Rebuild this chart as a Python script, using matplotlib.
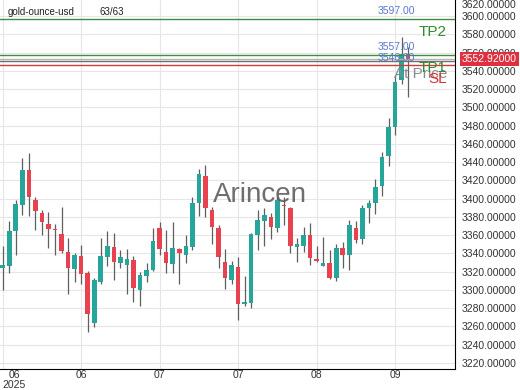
import matplotlib
matplotlib.use("Agg")
import matplotlib.pyplot as plt
import numpy as np

plt.rcParams["font.family"] = ["Liberation Sans", "DejaVu Sans"]

# daily candles, gold-ounce-usd (63 bars)
opens  = [3324, 3326, 3364, 3393, 3431, 3399, 3384, 3372, 3367, 3361,
          3342, 3323, 3337, 3318, 3264, 3309, 3336, 3347, 3330, 3327,
          3333, 3300, 3315, 3322, 3368, 3342, 3328, 3345, 3338, 3347,
          3395, 3425, 3388, 3368, 3331, 3311, 3325, 3285, 3286, 3360,
          3375, 3380, 3368, 3393, 3390, 3347, 3348, 3360, 3334, 3326,
          3330, 3313, 3346, 3338, 3368, 3356, 3390, 3395, 3414, 3447,
          3478, 3530, 3558]
highs  = [3348, 3375, 3398, 3445, 3450, 3402, 3388, 3385, 3372, 3391,
          3357, 3340, 3349, 3321, 3313, 3357, 3365, 3362, 3344, 3345,
          3337, 3320, 3329, 3368, 3374, 3366, 3374, 3346, 3360, 3402,
          3432, 3437, 3391, 3371, 3345, 3332, 3336, 3315, 3362, 3387,
          3390, 3384, 3402, 3402, 3391, 3357, 3369, 3373, 3348, 3358,
          3344, 3350, 3353, 3377, 3375, 3393, 3399, 3422, 3451, 3488,
          3535, 3577, 3566]
lows   = [3300, 3318, 3338, 3382, 3381, 3366, 3360, 3346, 3338, 3340,
          3295, 3309, 3307, 3254, 3259, 3307, 3326, 3311, 3324, 3296,
          3287, 3282, 3309, 3321, 3338, 3318, 3318, 3307, 3329, 3344,
          3381, 3380, 3350, 3324, 3301, 3307, 3267, 3282, 3280, 3344,
          3348, 3356, 3363, 3371, 3340, 3331, 3341, 3327, 3331, 3326,
          3312, 3310, 3324, 3322, 3351, 3350, 3373, 3383, 3403, 3436,
          3470, 3526, 3511]
closes = [3327, 3364, 3394, 3431, 3402, 3386, 3374, 3367, 3366, 3343,
          3324, 3338, 3317, 3274, 3311, 3337, 3348, 3331, 3336, 3334,
          3302, 3316, 3322, 3354, 3345, 3330, 3346, 3340, 3348, 3395,
          3427, 3390, 3369, 3336, 3313, 3327, 3285, 3287, 3361, 3377,
          3382, 3369, 3399, 3392, 3348, 3350, 3360, 3335, 3332, 3330,
          3313, 3346, 3338, 3371, 3355, 3390, 3395, 3413, 3446, 3478,
          3528, 3558, 3552.92]

tick_pos    = [0, 12, 24, 36, 48, 60]
tick_labels = ["06\n2025", "06", "07", "07", "08", "09"]
y_ticks     = list(range(3220, 3601, 20))

tp2      = 3597.00
tp1      = 3557.00
at_price = 3551.00
sl       = 3546.00
last     = 3552.92

GREEN = "#26a69a"
RED   = "#e8414f"
WICK  = "#5f5f5f"
GRID  = "#e6e6e6"

fig = plt.figure(figsize=(5.2, 3.9), dpi=100)
ax = fig.add_axes([0, 21 / 390, 455 / 520, 369 / 390])

x = np.arange(len(opens))
o = np.array(opens, dtype=float)
c = np.array(closes, dtype=float)
up = c >= o
colors = np.where(up, GREEN, RED)

ax.vlines(x, lows, highs, color=WICK, lw=0.9, zorder=2)
body_h = np.maximum(np.abs(c - o), 0.8)
ax.bar(x, body_h, bottom=np.minimum(o, c), width=0.7, color=colors,
       linewidth=0, zorder=3)

# trade levels
ax.axhline(tp2, color="#3f8f3f", lw=1.0, zorder=4)
ax.axhline(tp1, color="#3f8f3f", lw=1.0, zorder=4)
ax.axhline(last, color="#b5b5b5", lw=1.0, zorder=4)
ax.axhline(at_price, color="#707070", lw=1.0, zorder=4)
ax.axhline(sl, color="#d23b3b", lw=1.0, zorder=4)

ytr = ax.get_yaxis_transform()
for val in (tp2, tp1, sl):
    ax.annotate(f"{val:.2f}", xy=(415 / 455, val), xycoords=ytr,
                xytext=(0, 2), textcoords="offset points",
                ha="right", va="bottom", fontsize=7.5, color="#5a78d0",
                zorder=6)

for txt, val, col in [("TP2", tp2, "#2e8b2e"), ("At Price", at_price, "#8a8a8a"),
                      ("TP1", tp1, "#2e8b2e"), ("SL", sl, "#d93030")]:
    ax.annotate(txt, xy=(447 / 455, val), xycoords=ytr,
                xytext=(0, -4.5), textcoords="offset points",
                ha="right", va="top", fontsize=11, color=col, zorder=6)

# last price tag
ax.annotate(f"{last:.5f}", xy=(1, last), xycoords=ytr,
            xytext=(5, 0), textcoords="offset points",
            ha="left", va="center", fontsize=7.5, color="white",
            bbox=dict(boxstyle="square,pad=0.2", fc="#e0303f", ec="none"),
            annotation_clip=False, zorder=7)

ax.set_xlim(-0.41, 69.16)
ax.set_ylim(3213.4, 3617.5)

ax.set_xticks(tick_pos)
ax.set_xticklabels(tick_labels, fontsize=7.5, color="#333333")
first = ax.get_xticklabels()[0]
first.set_horizontalalignment("left")
first.set_multialignment("center")
first.set_linespacing(0.95)

ax.set_yticks(y_ticks)
ax.set_yticklabels([f"{v:.5f}" for v in y_ticks], fontsize=7.5, color="#333333")
ax.yaxis.tick_right()
ax.tick_params(axis="y", length=0, pad=5)
ax.tick_params(axis="x", length=0, pad=1)
fig.text(462 / 520, 1 - 4.5 / 390, "3620.00000", fontsize=7.5,
         color="#333333", va="center", ha="left")

ax.grid(True, color=GRID, lw=0.8, zorder=0)
ax.set_axisbelow(True)
for side in ("left", "top"):
    ax.spines[side].set_visible(False)
ax.spines["right"].set_color("black")
ax.spines["bottom"].set_color("black")

ax.text(8 / 455, 1 - 12 / 369, "gold-ounce-usd", transform=ax.transAxes,
        fontsize=7, va="center", ha="left", color="#222222")
ax.text(100 / 455, 1 - 12 / 369, "63/63", transform=ax.transAxes,
        fontsize=7, va="center", ha="left", color="#222222")

fig.text(0.5, 0.5, "Arincen", fontsize=20, color="#555555", alpha=0.85,
         ha="center", va="center")

fig.savefig("out.png", dpi=100, facecolor="white")
